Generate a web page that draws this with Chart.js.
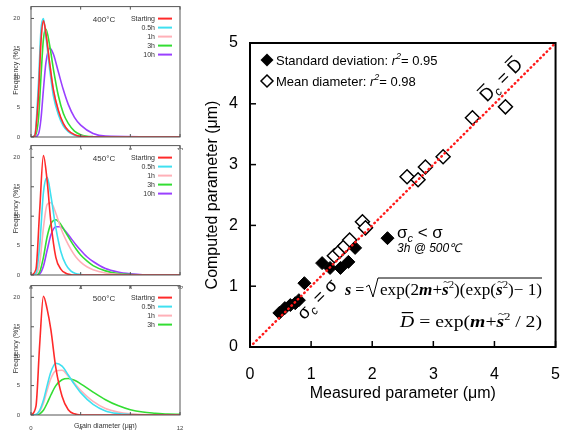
<!DOCTYPE html>
<html>
<head>
<meta charset="utf-8">
<script src="https://cdn.jsdelivr.net/npm/chart.js@4.4.1/dist/chart.umd.min.js"></script>
<style>
body{margin:0;background:#fff;width:563px;height:430px;position:relative;overflow:hidden}
canvas{position:absolute}
</style>
</head>
<body>
<canvas id="p400" style="left:0;top:0" width="190" height="150"></canvas>
<canvas id="p450" style="left:0;top:139px" width="190" height="150"></canvas>
<canvas id="p500" style="left:0;top:279px" width="190" height="151"></canvas>
<canvas id="main" style="left:190px;top:0" width="380" height="430"></canvas>
<script>
// left panels: size distributions (x = grain diameter, y = frequency %)
const timeLabels = ['Starting', '0.5h', '1h', '3h', '10h'];
const curveColors = ['#ff2a2a', '#3fe0f0', '#ffb0b8', '#33dd33', '#9a40ff'];

const x400 = [0, 0.3, 0.6, 0.8, 1.0, 1.2, 1.5, 1.8, 2.2, 2.6, 3.0, 3.5, 4.0, 5.0, 6.0, 12];
const start400 = [0, 0.2, 7, 16, 19.6, 17.5, 12.5, 8, 4.5, 2.3, 1.1, 0.4, 0.1, 0, 0, 0];
const h05_400 = [0, 0.3, 9, 18, 20, 17, 11.5, 7, 3.8, 1.9, 0.9, 0.3, 0.1, 0, 0, 0];
const h1_400 = [0, 0.2, 7.5, 16.5, 19.5, 17.5, 12.5, 8, 4.4, 2.2, 1.1, 0.4, 0.1, 0, 0, 0];
const h3_400 = [0, 0.1, 3, 10, 16.5, 18.2, 15.5, 11.5, 7, 4, 2.3, 1, 0.4, 0.05, 0, 0];
const h10_400 = [0, 0, 0.5, 3, 8, 12.5, 15, 14, 11, 8, 5.5, 3.3, 2, 0.6, 0.15, 0];

const x450 = [0, 0.4, 0.7, 1.0, 1.3, 1.6, 2.0, 2.4, 2.8, 3.2, 3.6, 4.0, 4.5, 5.0, 6.0, 7.0, 8.0, 9.0, 12];
const start450 = [0, 1, 11, 20.3, 16, 9, 3, 1, 0.3, 0.05, 0, 0, 0, 0, 0, 0, 0, 0, 0];
const h05_450 = [0, 0.3, 5, 14, 16.6, 13.5, 8, 4, 1.8, 0.7, 0.25, 0.1, 0, 0, 0, 0, 0, 0, 0];
const h1_450 = [0, 0.1, 2, 8, 12, 12.3, 10.5, 8, 6, 4.4, 3.1, 2.2, 1.4, 0.9, 0.35, 0.1, 0, 0, 0];
const h3_450 = [0, 0, 0.5, 3, 6.5, 8.7, 9.4, 8.6, 7.2, 5.8, 4.5, 3.4, 2.4, 1.6, 0.7, 0.25, 0.08, 0, 0];
const h10_450 = [0, 0, 0.2, 1.5, 4.2, 6.8, 8.2, 8.2, 7.4, 6.3, 5.2, 4.2, 3.1, 2.3, 1.1, 0.5, 0.2, 0.05, 0];

const x500 = [0, 0.4, 0.7, 1.0, 1.3, 1.6, 2.0, 2.5, 3.0, 3.5, 4.0, 5.0, 6.0, 7.0, 8.0, 9.0, 10, 11, 12];
const start500 = [0, 1.5, 12, 20.2, 18, 14.5, 8, 3.2, 0.9, 0.2, 0, 0, 0, 0, 0, 0, 0, 0, 0];
const h05_500 = [0, 0.1, 0.8, 2.5, 5, 7.3, 8.8, 8.3, 6.8, 5.2, 3.8, 1.8, 0.7, 0.25, 0.08, 0, 0, 0, 0];
const h1_500 = [0, 0.1, 0.6, 2, 4.2, 6.2, 7.5, 7.6, 6.6, 5.4, 4.2, 2.3, 1.1, 0.5, 0.2, 0.07, 0, 0, 0];
const h3_500 = [0, 0, 0.2, 0.8, 2, 3.4, 5, 6, 6.2, 5.9, 5.3, 3.9, 2.6, 1.6, 0.9, 0.5, 0.3, 0.15, 0.1];

// main plot: measured vs computed (um)
const sdMeasured = [0.48, 0.57, 0.66, 0.74, 0.80, 0.89, 1.18, 1.31, 1.48, 1.61, 1.72, 2.25];
const sdComputed = [0.56, 0.64, 0.69, 0.72, 0.77, 1.05, 1.38, 1.30, 1.30, 1.40, 1.63, 1.79];
const meanMeasured = [1.38, 1.47, 1.55, 1.63, 1.84, 1.89, 2.57, 2.75, 2.87, 3.16, 3.64, 4.18];
const meanComputed = [1.50, 1.58, 1.66, 1.76, 2.06, 1.96, 2.80, 2.75, 2.96, 3.13, 3.77, 3.95];
const diagX = [0, 5];
const diagY = [0, 5];

Chart.defaults.font.family = '"Liberation Sans", Arial, sans-serif';
Chart.defaults.color = '#000';

const pts = (xs, ys) => xs.map((v, i) => ({x: v, y: ys[i]}));

const panelDeco = {
  id: 'panelDeco',
  afterDraw(chart, args, o) {
    const {ctx, chartArea: a, scales: {x, y}} = chart;
    ctx.save();
    ctx.strokeStyle = '#555';
    ctx.lineWidth = 1;
    ctx.strokeRect(a.left, a.top, a.right - a.left, a.bottom - a.top);
    x.ticks.forEach(t => {
      const px = x.getPixelForValue(t.value);
      ctx.beginPath();
      ctx.moveTo(px, a.bottom); ctx.lineTo(px, a.bottom - 3);
      ctx.moveTo(px, a.top); ctx.lineTo(px, a.top + 3);
      ctx.stroke();
    });
    y.ticks.forEach(t => {
      const py = y.getPixelForValue(t.value);
      ctx.beginPath();
      ctx.moveTo(a.left, py); ctx.lineTo(a.left + 3, py);
      ctx.stroke();
    });
    ctx.fillStyle = '#333';
    ctx.font = '8px "Liberation Sans"';
    ctx.textAlign = 'center';
    ctx.textBaseline = 'middle';
    ctx.fillText(o.title, 104, a.top + 13);
    ctx.font = '7px "Liberation Sans"';
    ctx.textAlign = 'right';
    o.labels.forEach((l, i) => {
      const ry = a.top + 12 + 9 * i;
      ctx.fillStyle = '#333';
      ctx.fillText(l, 155, ry);
      ctx.strokeStyle = curveColors[i];
      ctx.lineWidth = 2;
      ctx.beginPath();
      ctx.moveTo(158, ry); ctx.lineTo(172, ry);
      ctx.stroke();
    });
    ctx.restore();
  }
};

const makePanel = (id, title, xs, series, xHeight, xTitle) => {
  new Chart(document.getElementById(id), {
    type: 'line',
    data: {
      datasets: series.map((ys, i) => ({
        data: pts(xs, ys),
        borderColor: curveColors[i],
        borderWidth: 1.6,
        pointRadius: 0,
        fill: false,
        cubicInterpolationMode: 'monotone'
      }))
    },
    options: {
      responsive: false,
      animation: false,
      events: [],
      layout: {padding: {top: 5, right: 10, left: 0, bottom: 0}},
      plugins: {
        legend: {display: false},
        tooltip: {enabled: false},
        panelDeco: {title: title, labels: timeLabels.slice(0, series.length)}
      },
      scales: {
        x: {
          type: 'linear', min: 0, max: 12,
          ticks: {stepSize: 4, font: {size: 6}, color: '#444', padding: 2, maxRotation: 0},
          grid: {display: false}, border: {display: false},
          title: {display: !!xTitle, text: xTitle || '', font: {size: 7}, color: '#333', padding: 0},
          afterFit: s => { s.height = xHeight; }
        },
        y: {
          type: 'linear', min: 0, max: 22,
          ticks: {stepSize: 5, font: {size: 6}, color: '#444', padding: 3},
          afterBuildTicks: s => { s.ticks = s.ticks.filter(t => t.value <= 20); },
          grid: {display: false}, border: {display: false},
          title: {display: true, text: 'Frequency (%)', font: {size: 7}, color: '#333', padding: {top: 12, bottom: 0}},
          afterFit: s => { s.width = 31; }
        }
      }
    },
    plugins: [panelDeco]
  });
};

makePanel('p400', '400°C', x400, [start400, h05_400, h1_400, h3_400, h10_400], 13);
makePanel('p450', '450°C', x450, [start450, h05_450, h1_450, h3_450, h10_450], 14);
makePanel('p500', '500°C', x500, [start500, h05_500, h1_500, h3_500], 15, 'Grain diameter (μm)');

// text made of runs with different fonts
const runs = (ctx, x, y, parts, dry) => {
  let cx = x;
  parts.forEach(p => {
    ctx.font = p.f;
    const w = ctx.measureText(p.t).width;
    if (!dry) {
      ctx.fillText(p.t, cx, y + (p.dy || 0));
      if (p.bar) ctx.fillRect(cx + w * 0.12, y + p.bar, w * 0.8, 1.2);
      if (p.tilde) {
        ctx.font = '11px "Liberation Serif"';
        const tw = ctx.measureText('~').width;
        ctx.fillText('~', cx + w / 2 - tw / 2 + 1, y - 10);
      }
    }
    cx += w;
  });
  return cx - x;
};

const mainDeco = {
  id: 'mainDeco',
  afterDraw(chart) {
    const {ctx, chartArea: a, scales: {x, y}} = chart;
    ctx.save();
    ctx.strokeStyle = '#000';
    ctx.lineWidth = 2;
    ctx.strokeRect(a.left, a.top, a.right - a.left, a.bottom - a.top);
    ctx.lineWidth = 1.5;
    x.ticks.forEach(t => {
      const px = x.getPixelForValue(t.value);
      ctx.beginPath(); ctx.moveTo(px, a.bottom); ctx.lineTo(px, a.bottom - 6); ctx.stroke();
    });
    y.ticks.forEach(t => {
      const py = y.getPixelForValue(t.value);
      ctx.beginPath(); ctx.moveTo(a.left, py); ctx.lineTo(a.left + 6, py); ctx.stroke();
    });

    // legend
    ctx.fillStyle = '#000';
    const diamond = (cx, cy, r, filled) => {
      ctx.beginPath();
      ctx.moveTo(cx, cy - r); ctx.lineTo(cx + r, cy); ctx.lineTo(cx, cy + r); ctx.lineTo(cx - r, cy); ctx.closePath();
      if (filled) ctx.fill(); else { ctx.fillStyle = '#fff'; ctx.fill(); ctx.fillStyle = '#000'; ctx.lineWidth = 1.5; ctx.stroke(); }
    };
    diamond(77, 60, 6.5, true);
    diamond(77, 81, 6, false);
    ctx.textBaseline = 'alphabetic';
    ctx.textAlign = 'left';
    const L = '13px "Liberation Sans"', LI = 'italic 13px "Liberation Sans"', LS = 'italic 9px "Liberation Sans"';
    runs(ctx, 86, 65, [{t: 'Standard deviation: ', f: L}, {t: 'r', f: LI}, {t: '2', f: LS, dy: -6}, {t: '= 0.95', f: L}]);
    runs(ctx, 86, 86, [{t: 'Mean diameter: ', f: L}, {t: 'r', f: LI}, {t: '2', f: LS, dy: -6}, {t: '= 0.98', f: L}]);

    // outlier note
    const A = '17px "Liberation Sans"', AS = 'italic 11px "Liberation Sans"';
    runs(ctx, 207, 238, [{t: 'σ', f: A}, {t: 'c', f: AS, dy: 4}, {t: ' < σ', f: A}]);
    ctx.font = 'italic 12px "Liberation Sans"';
    ctx.fillText('3h @ 500℃', 207, 252);

    // rotated equalities along the diagonal
    const rot = (cx, cy, parts) => {
      ctx.save();
      ctx.translate(cx, cy);
      ctx.rotate(-Math.PI / 4);
      const w = runs(ctx, 0, 0, parts, true);
      runs(ctx, -w / 2, 6, parts);
      ctx.restore();
    };
    const R = '18px "Liberation Sans"', RS = 'italic 12px "Liberation Sans"';
    rot(311, 80, [{t: 'D', f: R, bar: -16}, {t: 'c', f: RS, dy: 4}, {t: ' = ', f: R}, {t: 'D', f: R, bar: -16}]);
    rot(127, 299, [{t: 'σ', f: R}, {t: 'c', f: RS, dy: 4}, {t: ' = ', f: R}, {t: 'σ', f: R}]);

    // formulas
    const T = '16px "Liberation Serif"', B = 'bold italic 16px "Liberation Serif"', S = '10px "Liberation Serif"', TI = 'italic 16px "Liberation Serif"';
    runs(ctx, 155, 295, [{t: 's', f: B}, {t: ' =', f: T}]);
    ctx.lineWidth = 1;
    ctx.beginPath();
    ctx.moveTo(176, 287); ctx.lineTo(179, 285); ctx.lineTo(183, 297); ctx.lineTo(188, 278); ctx.lineTo(352, 278);
    ctx.stroke();
    const f1 = [{t: 'exp(2', f: T}, {t: 'm', f: B}, {t: '+', f: T}, {t: 's', f: B, tilde: true}, {t: '2', f: S, dy: -7},
      {t: ')(exp(', f: T}, {t: 's', f: B, tilde: true}, {t: '2', f: S, dy: -7}, {t: ')\u2212 1)', f: T}];
    const fit = (x0, x1, yb, parts) => {
      const w = runs(ctx, 0, 0, parts, true);
      ctx.save();
      ctx.translate(x0, yb);
      ctx.scale((x1 - x0) / w, 1);
      runs(ctx, 0, 0, parts);
      ctx.restore();
    };
    fit(190, 352, 295, f1);
    const f2 = [{t: 'D', f: TI, bar: -15}, {t: ' = exp(', f: T}, {t: 'm', f: B}, {t: '+', f: T}, {t: 's', f: B, tilde: true},
      {t: '2', f: S, dy: -7}, {t: ' / 2)', f: T}];
    fit(210, 352, 327, f2);
    ctx.restore();
  }
};

new Chart(document.getElementById('main'), {
  type: 'scatter',
  data: {
    datasets: [
      {
        type: 'line',
        data: pts(diagX, diagY),
        borderColor: '#ff1a1a',
        borderWidth: 2.5,
        borderDash: [0.5, 4],
        borderCapStyle: 'round',
        pointRadius: 0,
        fill: false
      },
      {
        data: pts(sdMeasured, sdComputed),
        pointStyle: 'rectRot',
        pointRadius: 6.5,
        backgroundColor: '#000',
        borderColor: '#000',
        borderWidth: 1
      },
      {
        data: pts(meanMeasured, meanComputed),
        pointStyle: 'rectRot',
        pointRadius: 7,
        backgroundColor: '#fff',
        borderColor: '#000',
        borderWidth: 1.5
      }
    ]
  },
  options: {
    responsive: false,
    animation: false,
    events: [],
    layout: {padding: {top: 43, right: 8, left: 0, bottom: 0}},
    plugins: {legend: {display: false}, tooltip: {enabled: false}},
    scales: {
      x: {
        type: 'linear', min: 0, max: 5,
        ticks: {stepSize: 1, font: {size: 16}, padding: 10},
        grid: {display: false}, border: {display: false},
        title: {display: true, text: 'Measured parameter (μm)', font: {size: 16}, padding: {top: 0, bottom: 27}},
        afterFit: s => { s.height = 83; }
      },
      y: {
        type: 'linear', min: 0, max: 5,
        ticks: {stepSize: 1, font: {size: 16}, padding: 4},
        grid: {display: false}, border: {display: false},
        title: {display: true, text: 'Computed parameter (μm)', font: {size: 16}, padding: {top: 13, bottom: 0}},
        afterFit: s => { s.width = 60; }
      }
    }
  },
  plugins: [mainDeco]
});
</script>
</body>
</html>
